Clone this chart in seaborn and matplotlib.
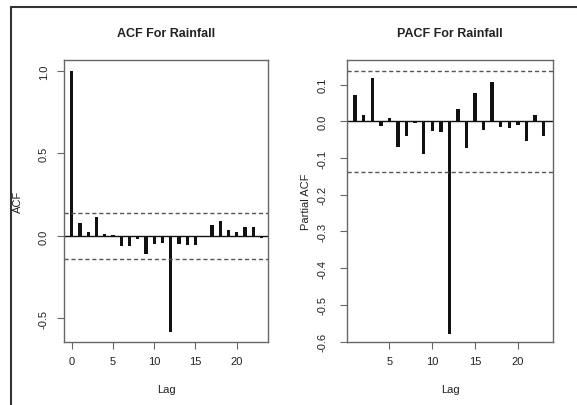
import numpy as np
import pandas as pd
import seaborn as sns
import matplotlib
matplotlib.use("Agg")
import matplotlib.pyplot as plt
from matplotlib.lines import Line2D

# ---- data ----
acf_lags = list(range(0, 24))
acf_vals = [1.0, 0.076, 0.026, 0.116, 0.012, 0.006, -0.060, -0.060, -0.018, -0.110,
            -0.050, -0.044, -0.584, -0.050, -0.058, -0.058, -0.003, 0.066, 0.090, 0.036,
            0.022, 0.052, 0.054, -0.014]
pacf_lags = list(range(1, 24))
pacf_vals = [0.073, 0.017, 0.117, -0.014, 0.008, -0.071, -0.039, -0.005, -0.089, -0.025,
             -0.028, -0.578, 0.034, -0.073, 0.076, -0.023, 0.108, -0.015, -0.018, -0.010,
             -0.053, 0.017, -0.039]
conf_limit = 0.138
acf_yticks = [-0.5, 0.0, 0.5, 1.0]
acf_xticks = [0, 5, 10, 15, 20]
pacf_yticks = [-0.6, -0.5, -0.4, -0.3, -0.2, -0.1, 0.0, 0.1]
pacf_xticks = [5, 10, 15, 20]
titles = ["ACF For Rainfall", "PACF For Rainfall"]
ylabels = ["ACF", "Partial ACF"]
xlabel = "Lag"

sns.set_theme(style="white")
plt.rcParams['font.family'] = ['Liberation Sans', 'DejaVu Sans']

fig = plt.figure(figsize=(5.77, 4.06), dpi=100)
ax1 = fig.add_axes([64/577, 1-343/406, 204/577, 282/406])
ax2 = fig.add_axes([347/577, 1-343/406, 206/577, 282/406])

txt = "#222222"
spine_c = "#666666"

def style(ax, lags, vals, xt, yt, xlim, ylim, title, ylab, ypad, ylabpad):
    df = pd.DataFrame({"lag": lags, "val": vals})
    sns.barplot(data=df, x="lag", y="val", native_scale=True, width=0.4,
                color="#111111", linewidth=0, saturation=1, ax=ax)
    ax.axhline(0, color="#111111", lw=1.0)
    ax.axhline(conf_limit, color="#555555", lw=1.0, ls=(0, (3, 2)))
    ax.axhline(-conf_limit, color="#555555", lw=1.0, ls=(0, (3, 2)))
    ax.set_xlim(*xlim)
    ax.set_ylim(*ylim)
    ax.set_xticks(xt)
    ax.set_xticklabels([str(v) for v in xt])
    ax.set_yticks(yt)
    ax.set_yticklabels([f"{v:.1f}" for v in yt], rotation=90, va="center")
    ax.tick_params(axis="both", which="both", direction="out", length=5, width=0.8,
                   color=spine_c, labelsize=8, labelcolor=txt, left=True, bottom=True)
    ax.tick_params(axis="x", pad=5)
    ax.tick_params(axis="y", pad=ypad)
    for s in ax.spines.values():
        s.set_color(spine_c)
        s.set_linewidth(1.0)
    ax.set_title(title, fontsize=9, fontweight="bold", color=txt, pad=17)
    ax.set_xlabel(xlabel, fontsize=8, color=txt, labelpad=13)
    ax.set_ylabel(ylab, fontsize=8, color=txt, labelpad=ylabpad)

style(ax1, acf_lags, acf_vals, acf_xticks, acf_yticks, (-0.93, 23.8), (-0.643, 1.066),
      titles[0], ylabels[0], 6, 11)
style(ax2, pacf_lags, pacf_vals, pacf_xticks, pacf_yticks, (0.05, 24.1), (-0.601, 0.167),
      titles[1], ylabels[1], 9, 5)

# outer frame (top and left edges)
fig.add_artist(Line2D([11/577, 1.0], [1-8/406, 1-8/406], transform=fig.transFigure,
                      color="#333333", lw=1.5))
fig.add_artist(Line2D([11/577, 11/577], [0.0, 1-8/406], transform=fig.transFigure,
                      color="#333333", lw=1.5))

fig.savefig("out.png", dpi=100, facecolor="white")
